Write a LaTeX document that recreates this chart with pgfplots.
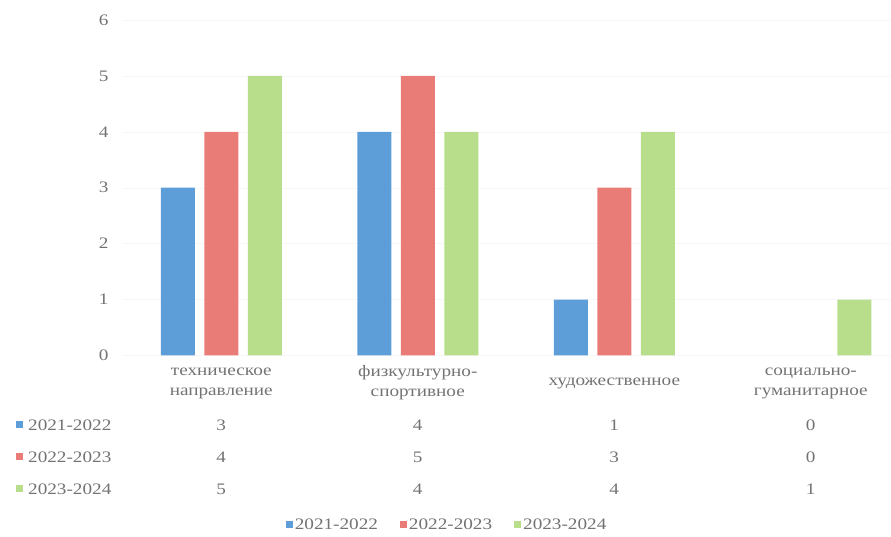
\documentclass[border=0pt]{standalone}
\usepackage{fontspec}
\setmainfont{Liberation Serif}[FakeStretch=1.2]
\usepackage{pgfplots}
\usepackage{pgfplotstable}
\pgfplotsset{compat=1.18}

\definecolor{sA}{RGB}{93,157,216}
\definecolor{sB}{RGB}{234,124,120}
\definecolor{sC}{RGB}{184,222,140}
\definecolor{txt}{RGB}{115,115,115}

\pgfplotstableread{
x  a b c
0  3 4 5
1  4 5 4
2  1 3 4
3  0 0 1
}\kruzhki

\begin{document}
\begin{tikzpicture}[font=\fontsize{16}{20}\selectfont, every node/.style={text=txt}]
\useasboundingbox (-123pt,-181.5pt) rectangle (768pt,355.5pt);
\begin{axis}[
    scale only axis,
    width=768pt, height=335.5pt,
    ybar=9.5pt, bar width=34pt,
    xmin=-0.5, xmax=3.408,
    ymin=0, ymax=6,
    ytick={0,...,6},
    xtick={0,1,2,3},
    xticklabels={{техническое\\направление},{физкультурно-\\спортивное},{художественное},{социально-\\гуманитарное}},
    xticklabel style={align=center, anchor=center, yshift=-27.5pt, text=txt},
    yticklabel style={text=txt, xshift=-11pt},
    /pgf/number format/assume math mode=true,
    axis line style={draw=none},
    major tick length=0pt,
    ymajorgrids, grid style={black!3},
    clip=false,
    restrict y to domain=0.01:10,
    legend columns=3,
    legend style={draw=none, at={(0.422,-0.505)}, anchor=center,
        /tikz/every even column/.append style={column sep=20pt},
        text=txt},
    legend image code/.code={\fill[#1] (0pt,-3.5pt) rectangle (7pt,3.5pt);},
]
\addplot[fill=sA, draw=none] table[x=x, y=a] {\kruzhki};
\addplot[fill=sB, draw=none] table[x=x, y=b] {\kruzhki};
\addplot[fill=sC, draw=none] table[x=x, y=c] {\kruzhki};
\legend{2021-2022, 2022-2023, 2023-2024}
\end{axis}
% data table under the chart
\foreach \lab/\col/\yy in {2021-2022/sA/-69.5, 2022-2023/sB/-101.5, 2023-2024/sC/-133.5}{
  \fill[\col] (-107pt,\yy pt-3.5pt) rectangle (-100pt,\yy pt+3.5pt);
  \node[anchor=west, inner sep=0pt] at (-95pt,\yy pt) {\lab};
}
\foreach \v [count=\i from 0] in {3,4,1,0}{\node at (98.25pt+196.5pt*\i,-69.5pt) {\v};}
\foreach \v [count=\i from 0] in {4,5,3,0}{\node at (98.25pt+196.5pt*\i,-101.5pt) {\v};}
\foreach \v [count=\i from 0] in {5,4,4,1}{\node at (98.25pt+196.5pt*\i,-133.5pt) {\v};}
\end{tikzpicture}
\end{document}
